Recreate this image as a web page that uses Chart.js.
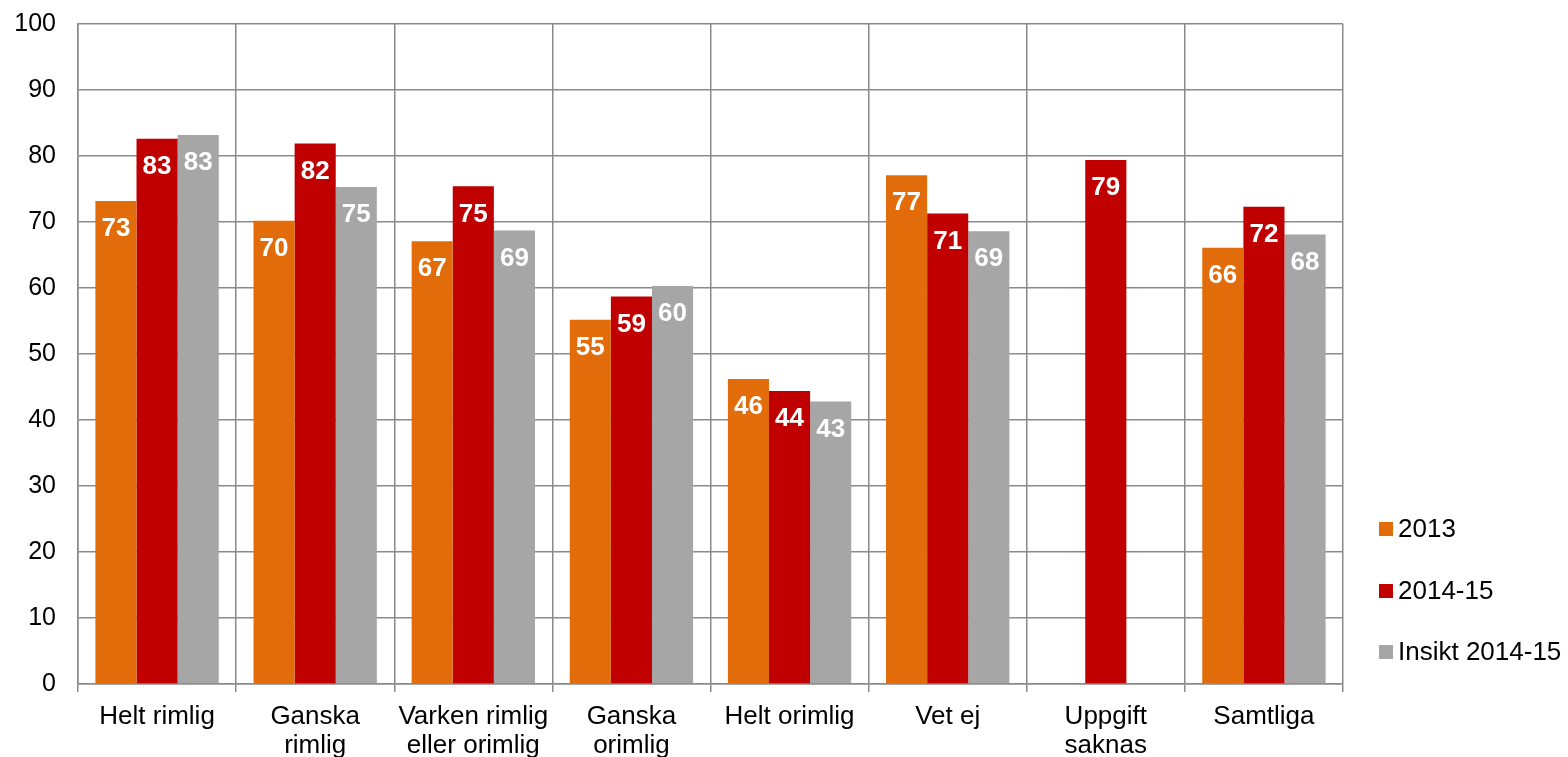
<!DOCTYPE html>
<html>
<head>
<meta charset="utf-8">
<script src="https://cdn.jsdelivr.net/npm/chart.js@4"></script>
<style>
  html, body { margin: 0; padding: 0; background: #fff; }
  #wrap { width: 1568px; height: 757px; }
</style>
</head>
<body>
<div id="wrap"><canvas id="chart" width="1568" height="757"></canvas></div>
<script>
const categories = [
    'Helt rimlig',
    ['Ganska', 'rimlig'],
    ['Varken rimlig', 'eller orimlig'],
    ['Ganska', 'orimlig'],
    'Helt orimlig',
    'Vet ej',
    ['Uppgift', 'saknas'],
    'Samtliga'
];
const seriesNames = ['2013', '2014-15', 'Insikt 2014-15'];
const values2013 = [73.2, 70.2, 67.1, 55.2, 46.2, 77.1, null, 66.1];
const values2014 = [82.6, 81.9, 75.4, 58.7, 44.4, 71.3, 79.4, 72.3];
const valuesInsikt = [83.2, 75.3, 68.7, 60.3, 42.8, 68.6, null, 68.1];
const yTicks = [0, 10, 20, 30, 40, 50, 60, 70, 80, 90, 100];

const colors = ['#E36C0A', '#C00000', '#A6A6A6'];
const gridColor = '#8a8a8a';
const font = "Arial, 'Liberation Sans', sans-serif";

// white value labels near the top inside each bar
const barLabels = {
    id: 'barLabels',
    afterDatasetsDraw(chart) {
        const ctx = chart.ctx;
        ctx.save();
        ctx.fillStyle = '#fff';
        ctx.font = 'bold 26px ' + font;
        ctx.textAlign = 'center';
        ctx.textBaseline = 'middle';
        chart.data.datasets.forEach((ds, i) => {
            chart.getDatasetMeta(i).data.forEach((bar, j) => {
                const v = ds.data[j];
                if (v == null) return;
                ctx.fillText(Math.round(v), bar.x, bar.y + 28);
            });
        });
        ctx.restore();
    }
};

// legend on the right, lower part
const sideLegend = {
    id: 'sideLegend',
    afterDraw(chart) {
        const ctx = chart.ctx;
        const ys = [529, 591, 652];
        ctx.save();
        ctx.font = '26px ' + font;
        ctx.textBaseline = 'middle';
        ctx.textAlign = 'left';
        chart.data.datasets.forEach((ds, i) => {
            ctx.fillStyle = ds.backgroundColor;
            ctx.fillRect(1379, ys[i] - 7, 14, 14);
            ctx.fillStyle = '#000';
            ctx.fillText(ds.label, 1398, ys[i] + 1);
        });
        ctx.restore();
    }
};

new Chart(document.getElementById('chart').getContext('2d'), {
    type: 'bar',
    data: {
        labels: categories,
        datasets: [
            { label: seriesNames[0], data: values2013, backgroundColor: colors[0] },
            { label: seriesNames[1], data: values2014, backgroundColor: colors[1] },
            { label: seriesNames[2], data: valuesInsikt, backgroundColor: colors[2] }
        ]
    },
    options: {
        responsive: false,
        animation: false,
        devicePixelRatio: 1,
        layout: { padding: { top: 24, right: 225, left: 0, bottom: 0 } },
        datasets: { bar: { barPercentage: 1, categoryPercentage: 0.78 } },
        plugins: {
            legend: { display: false },
            tooltip: { enabled: false }
        },
        scales: {
            x: {
                grid: { color: gridColor, lineWidth: 1.5, drawTicks: true, tickLength: 8, offset: true },
                border: { color: gridColor, width: 1.5 },
                ticks: {
                    color: '#000',
                    font: { family: font, size: 26, lineHeight: 1.12 },
                    padding: 10, maxRotation: 0, autoSkip: false
                },
                afterFit(scale) {
                    scale.height = 73;
                    scale.paddingLeft = 0;
                    scale.paddingRight = 0;
                }
            },
            y: {
                min: 0,
                max: 100,
                afterBuildTicks(scale) { scale.ticks = yTicks.map(v => ({ value: v })); },
                grid: { color: gridColor, lineWidth: 1.5, drawTicks: false },
                border: { color: gridColor, width: 1.5 },
                ticks: { color: '#000', font: { family: font, size: 25 }, padding: 22 },
                afterFit(scale) {
                    scale.width = 78;
                    scale.paddingTop = 0;
                    scale.paddingBottom = 0;
                }
            }
        }
    },
    plugins: [barLabels, sideLegend]
});
</script>
</body>
</html>
